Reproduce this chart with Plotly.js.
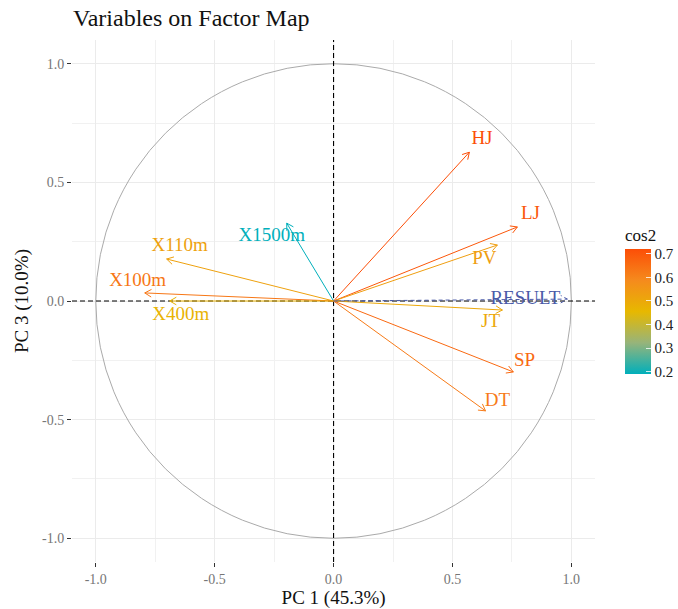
<!DOCTYPE html>
<html>
<head>
<meta charset="utf-8">
<script src="https://cdn.plot.ly/plotly-3.0.1.min.js"></script>
<style>html,body{margin:0;padding:0;background:#fff;}#chart{width:678px;height:609px;}</style>
</head>
<body>
<div id="chart"></div>
<script>
// Active variables (PC1, PC3 coordinates)
var varNames = ["HJ", "LJ", "PV", "JT", "SP", "DT", "X1500m", "X110m", "X100m", "X400m"];
var pc1 = [0.571, 0.773, 0.689, 0.710, 0.756, 0.639, -0.197, -0.702, -0.794, -0.689];
var pc3 = [0.627, 0.312, 0.236, -0.038, -0.299, -0.463, 0.328, 0.177, 0.034, 0.000];
var cos2 = [0.72, 0.70, 0.53, 0.50, 0.66, 0.62, 0.19, 0.52, 0.63, 0.47];
var labelX = [0.624, 0.828, 0.634, 0.660, 0.803, 0.689, -0.260, -0.647, -0.824, -0.643];
var labelY = [0.682, 0.366, 0.177, -0.088, -0.253, -0.421, 0.274, 0.232, 0.084, -0.059];

// Supplementary quantitative variable
var supNames = ["RESULT"];
var supPC1 = [0.983];
var supPC3 = [0.008];
var supLabelX = [0.807];
var supLabelY = [0.008];

// Axis ticks
var tickVals = [-1.0, -0.5, 0.0, 0.5, 1.0];
var tickText = ["-1.0", "-0.5", "0.0", "0.5", "1.0"];
var cbTickVals = [0.2, 0.3, 0.4, 0.5, 0.6, 0.7];

var FONT = "Liberation Serif, Times New Roman, serif";
var colorscale = [[0, "#00AFBB"], [0.25, "#97B47A"], [0.5, "#E7B800"], [0.75, "#F58A1D"], [1, "#FC4E07"]];
var cmin = Math.min.apply(null, cos2), cmax = Math.max.apply(null, cos2);

function hexToRgb(h) { h = h.replace("#", ""); return [parseInt(h.substr(0,2),16), parseInt(h.substr(2,2),16), parseInt(h.substr(4,2),16)]; }
function colorFor(v) {
  var t = (v - cmin) / (cmax - cmin);
  t = Math.max(0, Math.min(1, t));
  for (var i = 0; i < colorscale.length - 1; i++) {
    var a = colorscale[i], b = colorscale[i+1];
    if (t >= a[0] && t <= b[0]) {
      var f = (t - a[0]) / (b[0] - a[0]);
      var ca = hexToRgb(a[1]), cb = hexToRgb(b[1]);
      var c = ca.map(function(x, k){ return Math.round(x + (cb[k]-x)*f); });
      return "rgb(" + c.join(",") + ")";
    }
  }
  return colorscale[colorscale.length-1][1];
}

var headLen = 0.032, headAng = 30 * Math.PI / 180;
function arrowPath(x, y) {
  var L = Math.sqrt(x*x + y*y);
  var bx = -x / L, by = -y / L;
  function rot(a) { return [x + headLen*(bx*Math.cos(a) - by*Math.sin(a)), y + headLen*(bx*Math.sin(a) + by*Math.cos(a))]; }
  var p1 = rot(headAng), p2 = rot(-headAng);
  return { x: [0, x, null, p1[0], x, p2[0]], y: [0, y, null, p1[1], y, p2[1]] };
}

var traces = [];
for (var i = 0; i < varNames.length; i++) {
  var p = arrowPath(pc1[i], pc3[i]);
  var col = colorFor(cos2[i]);
  traces.push({ type: "scatter", mode: "lines", x: p.x, y: p.y, line: { color: col, width: 1 }, hoverinfo: "skip", showlegend: false });
  traces.push({ type: "scatter", mode: "text", x: [labelX[i]], y: [labelY[i]], text: [varNames[i]], textposition: "middle center", textfont: { family: FONT, size: 19, color: col }, hoverinfo: "skip", showlegend: false });
}
for (var j = 0; j < supNames.length; j++) {
  var q = arrowPath(supPC1[j], supPC3[j]);
  traces.push({ type: "scatter", mode: "lines", x: q.x, y: q.y, line: { color: "#4a5aa8", width: 1, dash: "4px,3px" }, hoverinfo: "skip", showlegend: false });
  traces.push({ type: "scatter", mode: "text", x: [supLabelX[j]], y: [supLabelY[j]], text: [supNames[j]], textposition: "middle center", textfont: { family: FONT, size: 19, color: "#4a5aa8" }, hoverinfo: "skip", showlegend: false });
}
// plot area geometry: panel 72..596 px of a 606-px paper (margin l=72, r=0)
var paperW = 678 - 72;
// colorbar carrier
traces.push({ type: "scatter", mode: "markers", x: pc1, y: pc3, hoverinfo: "skip", showlegend: false,
  marker: { size: 1, opacity: 0, color: cos2, cmin: cmin, cmax: cmax, colorscale: colorscale, showscale: true,
    colorbar: { x: (625 - 72) / paperW, xanchor: "left", y: (562 - 374) / 522, yanchor: "bottom", len: 149, lenmode: "pixels", thickness: 26, thicknessmode: "pixels",
      outlinewidth: 0, ticks: "inside", ticklen: 5, tickcolor: "rgba(255,255,255,0.8)", tickvals: cbTickVals, ticktext: cbTickVals.map(function(v){return v.toFixed(1);}),
      tickfont: { family: FONT, size: 15, color: "#222" }, xpad: 0, ypad: 0,
      title: { text: "cos2", side: "top", font: { family: FONT, size: 17, color: "#111" } } } } });

var axisCommon = {
  range: [-1.1, 1.1], tickvals: tickVals, ticktext: tickText, ticks: "outside", ticklen: 4, tickcolor: "#333", tickwidth: 1,
  showgrid: true, gridcolor: "#ebebeb", gridwidth: 1, zeroline: false, showline: false,
  minor: { tick0: 0.25, dtick: 0.5, showgrid: true, gridcolor: "#f1f1f1", gridwidth: 1, ticks: "" },
  tickfont: { family: FONT, size: 14, color: "#767676" }
};

var layout = {
  width: 678, height: 609,
  margin: { l: 72, r: 0, t: 40, b: 47 },
  paper_bgcolor: "#fff", plot_bgcolor: "#fff",
  title: { text: "Variables on Factor Map", x: 73/678, xanchor: "left", xref: "container", y: 1 - 18/609, yanchor: "middle", font: { family: FONT, size: 24, color: "#111" } },
  xaxis: Object.assign({}, axisCommon, { domain: [0, 524 / paperW], title: { text: "PC 1 (45.3%)", standoff: 8, font: { family: FONT, size: 19, color: "#111" } } }),
  yaxis: Object.assign({}, axisCommon, { title: { text: "PC 3 (10.0%)", standoff: 8, font: { family: FONT, size: 19, color: "#111" } } }),
  shapes: [
    { type: "circle", xref: "x", yref: "y", x0: -1, y0: -1, x1: 1, y1: 1, line: { color: "#aaaaaa", width: 1 }, layer: "between" },
    { type: "line", xref: "x", yref: "y", x0: -1.1, x1: 1.1, y0: 0, y1: 0, line: { color: "#000", width: 1.1, dash: "5px,3px" }, layer: "between" },
    { type: "line", xref: "x", yref: "y", x0: 0, x1: 0, y0: -1.1, y1: 1.1, line: { color: "#000", width: 1.1, dash: "5px,3px" }, layer: "between" }
  ],
  showlegend: false
};

Plotly.newPlot("chart", traces, layout, { staticPlot: true, displayModeBar: false });
</script>
</body>
</html>
